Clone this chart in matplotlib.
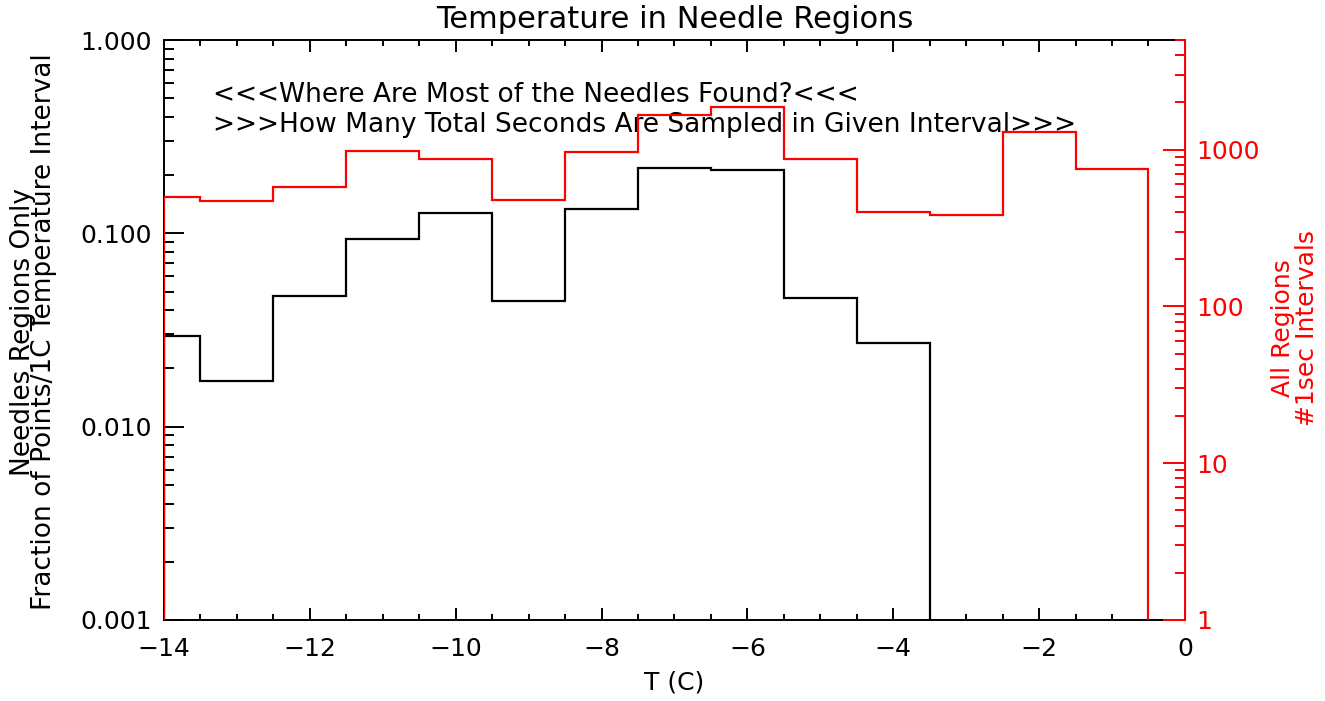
import numpy as np
import matplotlib
matplotlib.use('Agg')
import matplotlib.pyplot as plt
from matplotlib.ticker import FixedLocator, LogLocator, NullFormatter, FormatStrFormatter, MultipleLocator

# bin centres (deg C) and the two histograms
temp_c = [-14, -13, -12, -11, -10, -9, -8, -7, -6, -5, -4, -3, -2, -1, 0]
needle_frac = [0.0294, 0.0173, 0.0474, 0.0931, 0.128, 0.0448, 0.1336, 0.2185,
               0.213, 0.0464, 0.0270, 0.0, 0.0, 0.0, 0.0]
all_seconds = [497, 469, 575, 986, 873, 480, 961, 1671, 1861, 873, 399, 385,
               1289, 754, 0]

left_ticks = [0.001, 0.01, 0.1, 1.0]
right_ticks = [1, 10, 100, 1000]
right_labels = ['1', '10', '100', '1000']

title = 'Temperature in Needle Regions'
note1 = '<<<Where Are Most of the Needles Found?<<<'
note2 = '>>>How Many Total Seconds Are Sampled in Given Interval>>>'

FS = 18
plt.rcParams['font.family'] = ['DejaVu Sans']
plt.rcParams['axes.unicode_minus'] = True


def bin_edges(x):
    # histogram style edges: halfway between centres, clamped to the end points
    x = np.asarray(x, dtype=float)
    mids = (x[:-1] + x[1:]) / 2.0
    return np.concatenate([[x[0]], mids, [x[-1]]])


def main():
    fig = plt.figure(figsize=(13.25, 7.01), dpi=100)
    ax = fig.add_axes([0.1238, 0.1156, 0.8943 - 0.1238, 0.9429 - 0.1156])

    edges = bin_edges(temp_c)
    ax.set_yscale('log', nonpositive='clip')
    ax.stairs(needle_frac, edges, baseline=0, color='black', lw=1.6, zorder=3)
    ax.set_xlim(-14, 0)
    ax.set_ylim(0.001, 1.0)

    ax.xaxis.set_major_locator(MultipleLocator(2))
    ax.xaxis.set_minor_locator(MultipleLocator(0.5))
    ax.yaxis.set_major_locator(FixedLocator(left_ticks))
    ax.yaxis.set_major_formatter(FormatStrFormatter('%.3f'))
    ax.yaxis.set_minor_locator(LogLocator(base=10, subs=np.arange(2, 10)))
    ax.yaxis.set_minor_formatter(NullFormatter())

    ax.tick_params(axis='x', which='major', direction='in', length=8.6, width=1.4,
                   top=True, labelsize=FS, pad=12)
    ax.tick_params(axis='x', which='minor', direction='in', length=4.3, width=1.4,
                   top=True)
    ax.tick_params(axis='y', which='major', direction='in', length=14.4, width=1.4,
                   right=False, labelsize=FS, pad=9)
    ax.tick_params(axis='y', which='minor', direction='in', length=7.2, width=1.4,
                   right=False)
    for side in ['left', 'bottom', 'top']:
        ax.spines[side].set_linewidth(1.4)

    ax.set_xlabel('T (C)', fontsize=FS, labelpad=7)
    ax.set_title(title, fontsize=22, pad=9)
    fig.text(33.5 / 1325, 1 - 332 / 701,
             'Needles Regions Only\nFraction of Points/1C Temperature Interval',
             fontsize=19, rotation=90, ha='center', va='center',
             multialignment='center', linespacing=0.78)

    ax.text(0.048, 0.905, note1, transform=ax.transAxes, fontsize=19,
            ha='left', va='center')
    ax.text(0.048, 0.853, note2, transform=ax.transAxes, fontsize=19,
            ha='left', va='center')

    # all regions on the red right-hand axis
    ax2 = ax.twinx()
    ax2.set_yscale('log', nonpositive='clip')
    ax2.stairs(all_seconds, edges, baseline=0, color='red', lw=1.6, zorder=4)
    ax2.set_ylim(1, 5000)
    ax2.yaxis.set_major_locator(FixedLocator(right_ticks))
    ax2.set_yticklabels(right_labels)
    ax2.yaxis.set_minor_locator(LogLocator(base=10, subs=np.arange(2, 10)))
    ax2.yaxis.set_minor_formatter(NullFormatter())
    ax2.tick_params(axis='y', which='major', direction='in', length=15.8, width=1.4,
                    colors='red', labelsize=FS, pad=8)
    ax2.tick_params(axis='y', which='minor', direction='in', length=7.2, width=1.4,
                    colors='red')
    ax2.spines['right'].set_color('red')
    ax2.spines['right'].set_linewidth(1.4)
    for side in ['left', 'bottom', 'top']:
        ax2.spines[side].set_visible(False)
    fig.text(1295 / 1325, 1 - 328 / 701, 'All Regions\n#1sec Intervals',
             color='red', fontsize=18, rotation=90, ha='center', va='center',
             multialignment='center', linespacing=0.95)

    fig.savefig('out.png', dpi=100)
    return 0


if __name__ == '__main__':
    main()
